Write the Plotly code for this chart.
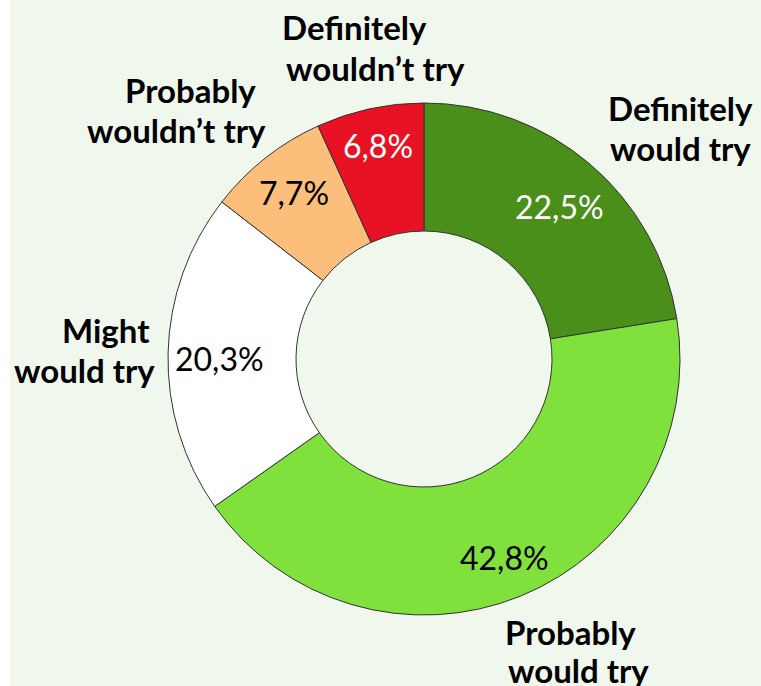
import plotly.graph_objects as go

W, H = 761, 686

# ---- data ----
categories = ["Definitely would try", "Probably would try", "Might would try",
              "Probably wouldn't try", "Definitely wouldn't try"]
values = [22.5, 42.8, 20.3, 7.7, 6.8]
label_lines = [["Definitely", "would try"], ["Probably", "would try"], ["Might", "would try"],
               ["Probably", "wouldn\u2019t try"], ["Definitely", "wouldn\u2019t try"]]

# ---- styles / layout ----
colors = ["#4A8F1A", "#80E03C", "#FFFFFF", "#FBBE7B", "#E81224"]
pct_colors = ["white", "black", "black", "black", "white"]
pct_pos = [(559, 207), (504, 557), (219, 358), (294, 192), (378, 145)]
label_pos = [[(680, 108), (680, 148)], [(570, 632), (578, 670)], [(106, 330), (84, 370)],
             [(190, 90), (176, 130)], [(354, 27), (375, 68)]]

FONT = "Lato, Roboto, 'Liberation Sans', sans-serif"

cx, cy, r = 424, 359, 256

fig = go.Figure(go.Pie(
    labels=categories, values=values, hole=0.5, sort=False, direction="clockwise",
    rotation=0, textinfo="none", hoverinfo="label+value", showlegend=False,
    marker=dict(colors=colors, line=dict(color="#333333", width=1)),
    domain=dict(x=[(cx - r) / W, (cx + r) / W], y=[1 - (cy + r) / H, 1 - (cy - r) / H]),
))

def px(x, y):
    return x / W, 1 - y / H

anns = []
for v, (x, y), c in zip(values, pct_pos, pct_colors):
    ax, ay = px(x, y)
    anns.append(dict(x=ax, y=ay, xref="paper", yref="paper", showarrow=False,
                     text=f"{v:.1f}%".replace(".", ","), xanchor="center", yanchor="middle",
                     font=dict(family=FONT, size=32, color=c)))
for lines, poss in zip(label_lines, label_pos):
    for t, (x, y) in zip(lines, poss):
        ax, ay = px(x, y)
        anns.append(dict(x=ax, y=ay, xref="paper", yref="paper", showarrow=False,
                         text=f"<b>{t}</b>", xanchor="center", yanchor="middle",
                         font=dict(family=FONT, size=33, color="black")))

fig.update_layout(
    width=W, height=H, margin=dict(l=0, r=0, t=0, b=0),
    paper_bgcolor="#F0F7EC", plot_bgcolor="#F0F7EC",
    annotations=anns,
    shapes=[dict(type="rect", xref="paper", yref="paper", x0=0, x1=10 / W, y0=0, y1=1,
                 fillcolor="white", line=dict(width=0), layer="below")],
)

fig.write_html("out.html")
